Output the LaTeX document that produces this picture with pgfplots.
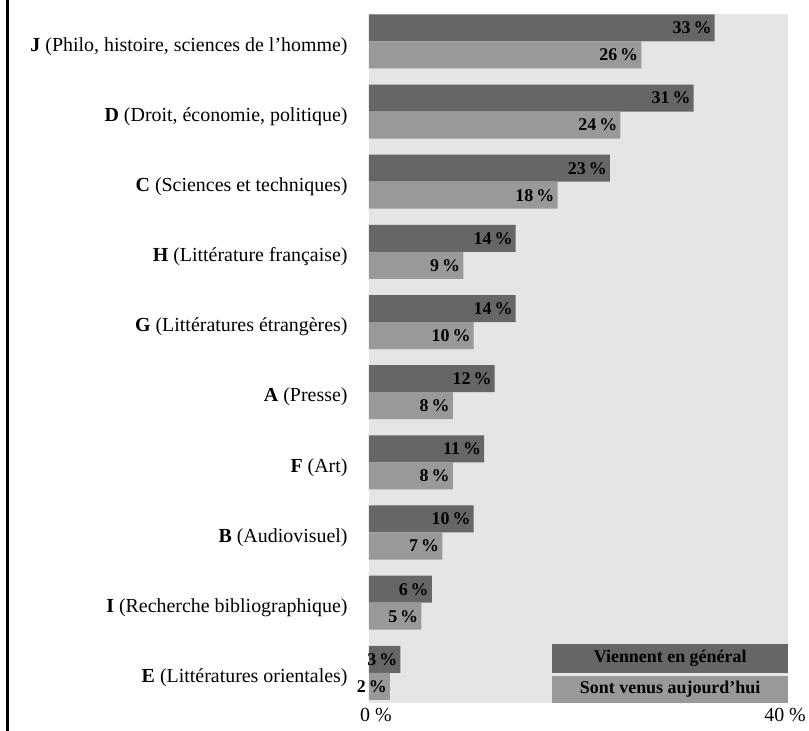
\documentclass[border=0pt]{standalone}
\usepackage{fontspec}
\setmainfont{Liberation Serif}
\usepackage{pgfplots}
\pgfplotsset{compat=1.18}
\definecolor{barDark}{RGB}{102,102,102}
\definecolor{barLight}{RGB}{153,153,153}
\definecolor{panel}{RGB}{229,229,229}
\newcommand{\catfont}{\fontsize{20}{24}\selectfont}
\newcommand{\valfont}{\bfseries\fontsize{18}{20}\selectfont}
\begin{document}
\begin{tikzpicture}
\useasboundingbox (-369bp,-28bp) rectangle (440bp,703bp);
% rule down the left edge of the page
\draw[line width=2.5bp] (-361.5bp,-28bp) -- (-361.5bp,703bp);
\begin{axis}[
  at={(0,0)}, anchor=south west,
  scale only axis, width=419bp, height=689bp,
  xmin=0, xmax=40, ymin=-0.43, ymax=9.39,
  xbar, bar width=27bp,
  axis background/.style={fill=panel},
  axis line style={draw=none},
  tick style={draw=none},
  /pgf/number format/assume math mode=true,
  xtick={0}, xticklabels={0 \%},
  xticklabel style={font=\catfont, inner sep=0pt, anchor=north west, xshift=-9bp, yshift=-5bp},
  extra x ticks={40}, extra x tick labels={40 \%},
  extra x tick style={xticklabel style={anchor=north east, xshift=27bp}},
  ytick={0,1,2,3,4,5,6,7,8,9},
  yticklabels={
    {\textbf{E} (Littératures orientales)},
    {\textbf{I} (Recherche bibliographique)},
    {\textbf{B} (Audiovisuel)},
    {\textbf{F} (Art)},
    {\textbf{A} (Presse)},
    {\textbf{G} (Littératures étrangères)},
    {\textbf{H} (Littérature française)},
    {\textbf{C} (Sciences et techniques)},
    {\textbf{D} (Droit, économie, politique)},
    {\textbf{J} (Philo, histoire, sciences de l’homme)}},
  yticklabel style={font=\catfont, inner sep=0pt, anchor=east, yshift=-5bp},
  yticklabel shift=17bp,
  point meta=x,
  nodes near coords={\pgfmathprintnumber{\pgfplotspointmeta}\,\%},
  every node near coord/.append style={anchor=east, xshift=-3bp, inner sep=0pt, font=\valfont, text=black},
]
% Viennent en général
\addplot[fill=barDark, draw=none, bar shift=13.5bp] coordinates {
  (3,0) (6,1) (10,2) (11,3) (12,4) (14,5) (14,6) (23,7) (31,8) (33,9)};
% Sont venus aujourd'hui
\addplot[fill=barLight, draw=none, bar shift=-13.5bp] coordinates {
  (2,0) (5,1) (7,2) (8,3) (8,4) (10,5) (9,6) (18,7) (24,8) (26,9)};
% legend keys
\fill[barDark] (axis cs:17.5,0) rectangle (axis cs:40,0.41);
\fill[barLight] (axis cs:17.5,-0.43) rectangle (axis cs:40,-0.045);
\node[font=\valfont] at (axis cs:28.75,0.205) {Viennent en général};
\node[font=\valfont] at (axis cs:28.75,-0.2375) {Sont venus aujourd’hui};
\end{axis}
\end{tikzpicture}
\end{document}
